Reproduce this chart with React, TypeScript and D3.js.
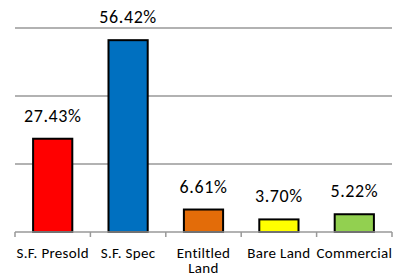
import React, { useEffect, useRef } from 'react'
import * as d3 from 'd3'

const categories = ['S.F. Presold', 'S.F. Spec', 'Entiltled Land', 'Bare Land', 'Commercial']
const values = [27.43, 56.42, 6.61, 3.7, 5.22]
const barColors = ['#FF0000', '#0070C0', '#E36C09', '#FFFF00', '#92D050']
const gridTicks = [20, 40, 60]

const width = 393
const height = 276
const margin = { top: 28, right: 1, bottom: 44, left: 15 }

const App = () => {
  const svgRef = useRef<SVGSVGElement>(null)

  useEffect(() => {
    const svg = d3.select(svgRef.current)
    svg.selectAll('*').remove()

    const font = 'Carlito, "Open Sans", "DejaVu Sans", sans-serif'
    const x = d3
      .scaleBand()
      .domain(categories)
      .range([margin.left, width - margin.right])
      .paddingInner(0.48)
      .paddingOuter(0.24)
    const y = d3
      .scaleLinear()
      .domain([0, 60])
      .range([height - margin.bottom, margin.top])

    // gridlines
    svg
      .append('g')
      .selectAll('line')
      .data(gridTicks)
      .join('line')
      .attr('x1', margin.left)
      .attr('x2', width - margin.right)
      .attr('y1', (d) => y(d))
      .attr('y2', (d) => y(d))
      .style('stroke', '#999')
      .style('stroke-width', 1.5)

    // bars
    svg
      .append('g')
      .selectAll('rect')
      .data(values)
      .join('rect')
      .attr('x', (d, i) => x(categories[i])!)
      .attr('y', (d) => y(d))
      .attr('width', x.bandwidth())
      .attr('height', (d) => y(0) - y(d))
      .style('fill', (d, i) => barColors[i])
      .style('stroke', '#000')
      .style('stroke-width', 2)

    // baseline + ticks
    const axis = d3
      .axisBottom(x)
      .tickSize(0)
      .tickFormat(() => '')
    const ax = svg.append('g').attr('transform', `translate(0,${y(0)})`).call(axis)
    ax.select('.domain').remove()
    ax
      .append('line')
      .attr('x1', margin.left)
      .attr('x2', width - margin.right)
      .style('stroke', '#999')
      .style('stroke-width', 1.5)
    const step = x.step()
    const edges = d3.range(categories.length + 1).map((i) => margin.left + i * step)
    ax
      .selectAll('line.edge')
      .data(edges)
      .join('line')
      .attr('class', 'edge')
      .attr('x1', (d) => d)
      .attr('x2', (d) => d)
      .attr('y1', 0)
      .attr('y2', 5)
      .style('stroke', '#999')
      .style('stroke-width', 1.5)

    // value labels
    svg
      .append('g')
      .selectAll('text')
      .data(values)
      .join('text')
      .attr('x', (d, i) => x(categories[i])! + x.bandwidth() / 2)
      .attr('y', (d) => y(d) - 17)
      .attr('text-anchor', 'middle')
      .style('font', `18px ${font}`)
      .style('letter-spacing', '0.6px')
      .style('fill', '#000')
      .text((d) => d.toFixed(2) + '%')

    // category labels
    const labels = svg
      .append('g')
      .selectAll('text')
      .data(categories)
      .join('text')
      .attr('x', (d) => x(d)! + x.bandwidth() / 2)
      .attr('y', y(0) + 26)
      .attr('text-anchor', 'middle')
      .style('font', `15px ${font}`)
      .style('letter-spacing', '0.3px')
      .style('fill', '#000')
    labels.each(function (d) {
      const t = d3.select(this)
      const parts = d === 'Entiltled Land' ? ['Entiltled', 'Land'] : [d]
      parts.forEach((p, i) => {
        t.append('tspan')
          .attr('x', x(d)! + x.bandwidth() / 2)
          .attr('dy', i === 0 ? 0 : 15)
          .text(p)
      })
    })
  }, [])

  return (
    <svg
      ref={svgRef}
      width={width}
      height={height}
      style={{ position: 'absolute', left: 0, top: 0, background: '#fff' }}
    ></svg>
  )
}

export default App
